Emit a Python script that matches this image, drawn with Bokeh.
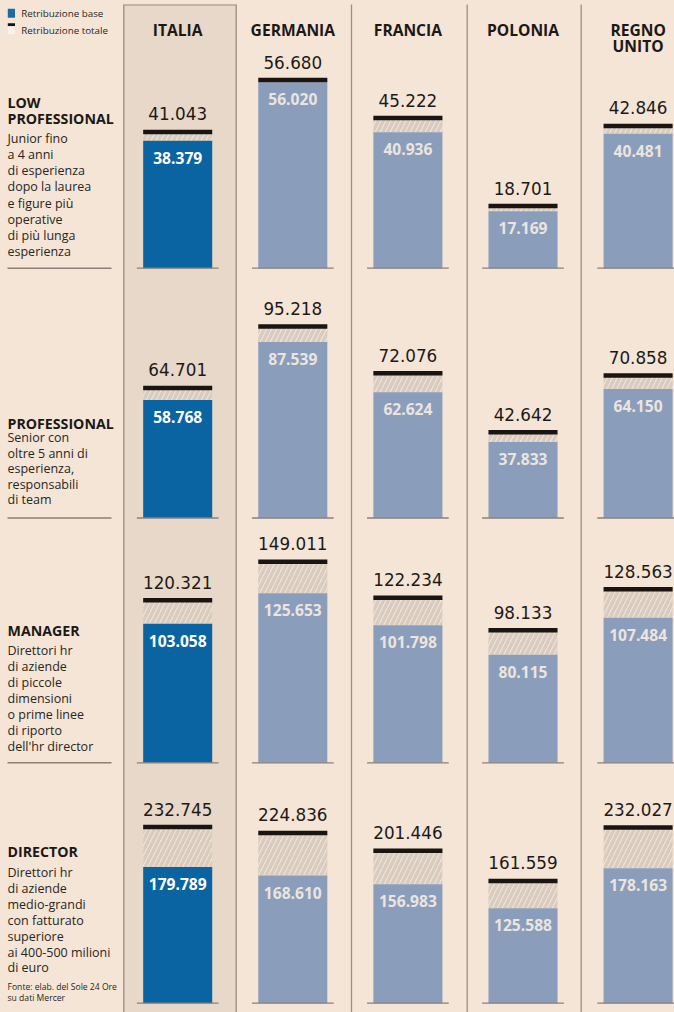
from bokeh.plotting import figure
from bokeh.models import Range1d, ColumnDataSource, GlobalInlineStyleSheet
from bokeh.core.properties import value
from bokeh.embed import file_html
from bokeh.resources import INLINE

# ---------------- data ----------------
countries = ["ITALIA", "GERMANIA", "FRANCIA", "POLONIA", "REGNO\nUNITO"]
roles = ["LOW\nPROFESSIONAL", "PROFESSIONAL", "MANAGER", "DIRECTOR"]

base_low = [38379, 56020, 40936, 17169, 40481]
total_low = [41043, 56680, 45222, 18701, 42846]
base_prof = [58768, 87539, 62624, 37833, 64150]
total_prof = [64701, 95218, 72076, 42642, 70858]
base_man = [103058, 125653, 101798, 80115, 107484]
total_man = [120321, 149011, 122234, 98133, 128563]
base_dir = [179789, 168610, 156983, 125588, 178163]
total_dir = [232745, 224836, 201446, 161559, 232027]

desc_low = ["Junior fino", "a 4 anni", "di esperienza", "dopo la laurea",
            "e figure più", "operative", "di più lunga", "esperienza"]
desc_prof = ["Senior con", "oltre 5 anni di", "esperienza,", "responsabili", "di team"]
desc_man = ["Direttori hr", "di aziende", "di piccole", "dimensioni",
            "o prime linee", "di riporto", "dell'hr director"]
desc_dir = ["Direttori hr", "di aziende", "medio-grandi", "con fatturato",
            "superiore", "ai 400-500 milioni", "di euro"]

legend_labels = ["Retribuzione base", "Retribuzione totale"]
source_note = ["Fonte: elab. del Sole 24 Ore", "su dati Mercer"]

base_rows = [base_low, base_prof, base_man, base_dir]
total_rows = [total_low, total_prof, total_man, total_dir]
desc_rows = [desc_low, desc_prof, desc_man, desc_dir]


def fmt(v):
    return f"{v:,}".replace(",", ".")


# ---------------- layout ----------------
W, H = 674, 1012
RW, RH = 674, 1012

BG = "#f4e5d7"
ITALIA_BG = "#e8d8c9"
SEP = "#9d8d80"
DARK = "#1c1814"
TXT = "#2a2520"

COL0, COLW = 177.2, 115.1
BAR_W = 0.6

ROW_BASE = [267.7, 517.5, 762.3, 1002.7]
ROW_SCALE = [0.00332, 0.00201, 0.00135, 0.000757]

p = figure(width=W, height=H, x_range=Range1d(0, RW), y_range=Range1d(RH, 0),
           output_backend="svg", toolbar_location=None,
           x_axis_location=None, y_axis_location=None, min_border=0,
           outline_line_color=None, background_fill_color=BG, border_fill_color=BG)
p.grid.visible = False
p.stylesheets = [GlobalInlineStyleSheet(css=f"body {{ background: {BG}; }}")]

p.extra_x_ranges = {"c": Range1d(-COL0 / COLW, (RW - COL0) / COLW)}
p.extra_y_ranges = {f"r{k}": Range1d((b - RH) / s, b / s)
                    for k, (b, s) in enumerate(zip(ROW_BASE, ROW_SCALE))}

# Italia column shading and column separators
p.quad(left=123.3, right=235.7, top=4, bottom=RH, fill_color=ITALIA_BG, line_color=None)
sep_x = [123.3, 235.7, 351.0, 466.7, 580.7]
p.segment(x0=sep_x, x1=sep_x, y0=[4] * 5, y1=[RH] * 5, line_color=SEP, line_width=1.3)
p.segment(x0=[123.3], x1=[235.7], y0=[4.5], y1=[4.5], line_color=SEP, line_width=1.0)

# headers
header_font = value("Open Sans")
first_lines = [c.split("\n")[0] for c in countries]
p.text(x=list(range(5)), y=[29.5] * 5, text=first_lines, x_range_name="c",
       text_align="center", text_baseline="middle", text_font=header_font,
       text_font_style="bold", text_font_size="15.6px", text_color=DARK)
second = [(i, c.split("\n")[1]) for i, c in enumerate(countries) if "\n" in c]
p.text(x=[i for i, _ in second], y=[45.5] * len(second), text=[t for _, t in second],
       x_range_name="c", text_align="center", text_baseline="middle",
       text_font=header_font, text_font_style="bold", text_font_size="15.6px",
       text_color=DARK)

# legend
p.quad(left=[7.3], right=[14.5], top=[8.3], bottom=[17.3], fill_color="#1f6aa6", line_color=None)
p.quad(left=[7.3], right=[14.5], top=[22.7], bottom=[25.8], fill_color="#141110", line_color=None)
p.quad(left=[7.3], right=[14.5], top=[25.8], bottom=[33.5], fill_color="#f8f2ec", line_color=None)
p.text(x=[20.7, 20.7], y=[13.3, 30.0], text=legend_labels, text_align="left",
       text_baseline="middle", text_font=value("Open Sans"), text_font_size="9.8px",
       text_color=TXT)

# bars
bar_colors = ["#0b64a2"] + ["#8a9dbb"] * 4
lbl_colors = ["#ffffff"] + ["#ece5de"] * 4
idx = list(range(len(countries)))
for k in range(4):
    rn = f"r{k}"
    src = ColumnDataSource(dict(
        x=idx, xl=[i - 0.355 for i in idx], xr=[i + 0.355 for i in idx],
        zero=[0] * 5, base=base_rows[k], total=total_rows[k],
        color=bar_colors, tcolor=lbl_colors,
        base_lbl=[fmt(v) for v in base_rows[k]],
        total_lbl=[fmt(v) for v in total_rows[k]]))
    kw = dict(source=src, x_range_name="c", y_range_name=rn)
    p.vbar(x="x", width=BAR_W, bottom="base", top="total", fill_color="#f0e6dc",
           hatch_pattern="/", hatch_color="#d9cbbd", hatch_weight=3.5, hatch_scale=10,
           line_color=None, **kw)
    p.vbar(x="x", width=BAR_W, bottom=0, top="base", fill_color="color",
           line_color=None, **kw)
    p.rect(x="x", y="total", width=BAR_W, height=4.5, height_units="screen",
           fill_color="#1a1512", line_color=None, **kw)
    p.segment(x0="xl", x1="xr", y0="zero", y1="zero", line_color="#8c8079",
              line_width=1.3, **kw)
    p.text(x="x", y="total", text="total_lbl", text_align="center",
           text_baseline="alphabetic", y_offset=-18, text_font=value("DejaVu Sans"),
           text_font_size="16.8px", text_color="#1d1916", **kw)
    p.text(x="x", y="base", text="base_lbl", text_align="center",
           text_baseline="alphabetic", y_offset=17, text_font=value("Open Sans"),
           text_font_style="bold", text_font_size="15.6px", text_color="tcolor", **kw)
    if k < 3:
        p.segment(x0=[7], x1=[111], y0=[0], y1=[0], line_color="#8c8079",
                  line_width=1.5, y_range_name=rn)

# left column texts
title_y0 = [101.7, 422.7, 630.0, 850.7]
title_step = 16.6
desc_y0 = [138.3, 437.3, 650.0, 872.3]
desc_step = [16.05, 15.5, 15.95, 15.85]
for k in range(4):
    tl = roles[k].split("\n")
    p.text(x=[7] * len(tl), y=[title_y0[k] + j * title_step for j in range(len(tl))],
           text=tl, text_align="left", text_baseline="middle",
           text_font=value("Open Sans"), text_font_style="bold",
           text_font_size="14.2px", text_color=DARK)
    dl = desc_rows[k]
    p.text(x=[7] * len(dl), y=[desc_y0[k] + j * desc_step[k] for j in range(len(dl))],
           text=dl, text_align="left", text_baseline="middle",
           text_font=value("Open Sans"), text_font_size="12.5px", text_color=TXT)

p.text(x=[7, 7], y=[986.0, 997.3], text=source_note, text_align="left",
       text_baseline="middle", text_font=value("Open Sans"), text_font_size="8.6px",
       text_color=TXT)

open("out.html", "w").write(file_html(p, INLINE))
